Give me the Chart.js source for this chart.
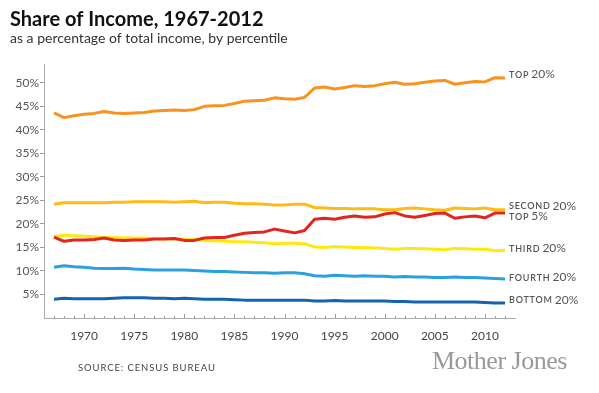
<!DOCTYPE html>
<html>
<head>
<meta charset="utf-8">
<script src="https://cdn.jsdelivr.net/npm/chart.js@4"></script>
<style>
  body { margin: 0; background: #fff; }
  #wrap { position: relative; width: 599px; height: 393px; overflow: hidden; }
  #source { position: absolute; left: 78px; top: 362px; font: 9.5px Lato, sans-serif; letter-spacing: 0.9px; color: #444; }
  #logo { position: absolute; left: 432px; top: 346px; font: 26px "Liberation Serif", serif; letter-spacing: -0.5px; color: #999; }
</style>
</head>
<body>
<div id="wrap">
  <canvas id="incomeChart" width="599" height="393"></canvas>
  <div id="source">SOURCE: CENSUS BUREAU</div>
  <div id="logo">Mother Jones</div>
</div>
<script>
const years = [1967, 1968, 1969, 1970, 1971, 1972, 1973, 1974, 1975, 1976,
               1977, 1978, 1979, 1980, 1981, 1982, 1983, 1984, 1985, 1986,
               1987, 1988, 1989, 1990, 1991, 1992, 1993, 1994, 1995, 1996,
               1997, 1998, 1999, 2000, 2001, 2002, 2003, 2004, 2005, 2006,
               2007, 2008, 2009, 2010, 2011, 2012];

const top20 = [43.6, 42.6, 43.0, 43.3, 43.5, 43.9, 43.6, 43.5, 43.6, 43.7,
               44.0, 44.1, 44.2, 44.1, 44.3, 45.0, 45.1, 45.2, 45.6, 46.1,
               46.2, 46.3, 46.8, 46.6, 46.5, 46.9, 48.9, 49.1, 48.7, 49.0,
               49.4, 49.2, 49.4, 49.8, 50.1, 49.7, 49.8, 50.1, 50.4, 50.5,
               49.7, 50.0, 50.3, 50.2, 51.1, 51.0];
const top5 = [17.2, 16.3, 16.6, 16.6, 16.7, 17.0, 16.6, 16.5, 16.6, 16.6,
              16.8, 16.8, 16.9, 16.5, 16.5, 17.0, 17.1, 17.1, 17.6, 18.0,
              18.2, 18.3, 18.9, 18.5, 18.1, 18.6, 21.0, 21.2, 21.0, 21.4,
              21.7, 21.4, 21.5, 22.1, 22.4, 21.7, 21.4, 21.8, 22.2, 22.3,
              21.2, 21.5, 21.7, 21.3, 22.3, 22.3];
const second20 = [24.2, 24.5, 24.5, 24.5, 24.5, 24.5, 24.6, 24.6, 24.7, 24.7,
                  24.7, 24.7, 24.6, 24.7, 24.8, 24.5, 24.6, 24.6, 24.4, 24.3,
                  24.3, 24.2, 24.0, 24.0, 24.2, 24.2, 23.5, 23.4, 23.3, 23.3,
                  23.2, 23.2, 23.2, 23.0, 23.0, 23.3, 23.4, 23.2, 23.0, 22.9,
                  23.4, 23.3, 23.2, 23.4, 23.0, 23.0];
const third20 = [17.3, 17.6, 17.5, 17.4, 17.3, 17.1, 17.1, 17.0, 17.0, 17.0,
                 16.9, 16.8, 16.8, 16.8, 16.7, 16.5, 16.4, 16.3, 16.2, 16.2,
                 16.1, 16.0, 15.8, 15.9, 15.9, 15.8, 15.1, 15.0, 15.2, 15.1,
                 15.0, 15.0, 14.9, 14.8, 14.6, 14.8, 14.8, 14.7, 14.6, 14.5,
                 14.8, 14.7, 14.6, 14.6, 14.3, 14.4];
const fourth20 = [10.8, 11.1, 10.9, 10.8, 10.6, 10.5, 10.5, 10.6, 10.4, 10.3,
                  10.2, 10.2, 10.2, 10.2, 10.1, 10.0, 9.9, 9.9, 9.8, 9.7,
                  9.6, 9.6, 9.5, 9.6, 9.6, 9.4, 9.0, 8.9, 9.1, 9.0,
                  8.9, 9.0, 8.9, 8.9, 8.7, 8.8, 8.7, 8.7, 8.6, 8.6,
                  8.7, 8.6, 8.6, 8.5, 8.4, 8.3];
const bottom20 = [4.0, 4.2, 4.1, 4.1, 4.1, 4.1, 4.2, 4.3, 4.3, 4.3,
                  4.2, 4.2, 4.1, 4.2, 4.1, 4.0, 4.0, 4.0, 3.9, 3.8,
                  3.8, 3.8, 3.8, 3.8, 3.8, 3.8, 3.6, 3.6, 3.7, 3.6,
                  3.6, 3.6, 3.6, 3.6, 3.5, 3.5, 3.4, 3.4, 3.4, 3.4,
                  3.4, 3.4, 3.4, 3.3, 3.2, 3.2];

const xTickYears = [1970, 1975, 1980, 1985, 1990, 1995, 2000, 2005, 2010];
const yTickValues = [5, 10, 15, 20, 25, 30, 35, 40, 45, 50];

// end labels: [small caps word, rest]
const seriesNames = [['TOP', '20%'], ['TOP', '5%'], ['SECOND', '20%'], ['THIRD', '20%'], ['FOURTH', '20%'], ['BOTTOM', '20%']];
const labelNudge = [-4, 3.5, -4, -2, -1.5, -3];

function pts(values) {
    return values.map((v, i) => ({ x: years[i], y: v }));
}

function line(label, values, color) {
    return {
        label: label,
        data: pts(values),
        borderColor: color,
        borderWidth: 3,
        pointRadius: 0,
        tension: 0,
        borderJoinStyle: 'round',
        fill: false
    };
}

// year tick marks sit above the axis line
const yearTicks = {
    id: 'yearTicks',
    afterDraw(chart) {
        const ctx = chart.ctx;
        const xs = chart.scales.x;
        const base = chart.chartArea.bottom;
        ctx.save();
        ctx.strokeStyle = '#999';
        ctx.lineWidth = 1;
        years.forEach(yr => {
            const px = Math.round(xs.getPixelForValue(yr)) + 0.5;
            const h = yr % 5 === 0 ? 4 : 2;
            ctx.beginPath();
            ctx.moveTo(px, base);
            ctx.lineTo(px, base - h);
            ctx.stroke();
        });
        ctx.restore();
    }
};

const endLabels = {
    id: 'endLabels',
    afterDatasetsDraw(chart) {
        const ctx = chart.ctx;
        ctx.save();
        ctx.fillStyle = '#555';
        ctx.textBaseline = 'middle';
        chart.data.datasets.forEach((ds, i) => {
            const meta = chart.getDatasetMeta(i);
            const last = meta.data[meta.data.length - 1];
            const x = last.x + 4;
            const y = last.y + labelNudge[i];
            ctx.font = '600 9px Lato, sans-serif';
            ctx.letterSpacing = '0.8px';
            ctx.fillText(seriesNames[i][0], x, y + 0.5);
            const w = ctx.measureText(seriesNames[i][0]).width;
            ctx.font = '12px Lato, sans-serif';
            ctx.letterSpacing = '0px';
            ctx.fillText(seriesNames[i][1], x + w + 2, y);
        });
        ctx.restore();
    }
};

const ctx = document.getElementById('incomeChart').getContext('2d');
const incomeChart = new Chart(ctx, {
    type: 'line',
    data: {
        datasets: [
            line('Top 20%', top20, '#f7931e'),
            line('Top 5%', top5, '#e2261d'),
            line('Second 20%', second20, '#fdbb16'),
            line('Third 20%', third20, '#ffe812'),
            line('Fourth 20%', fourth20, '#2aa0de'),
            line('Bottom 20%', bottom20, '#1762ad')
        ]
    },
    options: {
        responsive: false,
        animation: false,
        devicePixelRatio: 1,
        layout: { padding: { left: 10, right: 84, top: 0, bottom: 53 } },
        plugins: {
            legend: { display: false },
            tooltip: { enabled: false },
            title: {
                display: true,
                text: 'Share of Income, 1967-2012',
                align: 'start',
                color: '#111',
                font: { family: 'Lato', size: 20, weight: 'bold', lineHeight: 1 },
                padding: { top: 10, bottom: 1 }
            },
            subtitle: {
                display: true,
                text: 'as a percentage of total income, by percentile',
                align: 'start',
                color: '#333',
                font: { family: 'Lato', size: 14, lineHeight: 1 },
                padding: { top: 0, bottom: 19 }
            }
        },
        scales: {
            x: {
                type: 'linear',
                min: 1966,
                max: 2013,
                afterFit: s => { s.height = 22; },
                afterBuildTicks: s => { s.ticks = xTickYears.map(v => ({ value: v })); },
                grid: { display: false },
                border: { display: true, color: '#aaa', width: 1 },
                ticks: {
                    autoSkip: false,
                    maxRotation: 0,
                    padding: 3,
                    color: '#444',
                    font: { family: 'Lato', size: 12 },
                    callback: v => String(v)
                }
            },
            y: {
                min: 0,
                max: 54,
                afterFit: s => { s.width = 34; },
                afterBuildTicks: s => { s.ticks = yTickValues.map(v => ({ value: v })); },
                grid: { drawOnChartArea: false, drawTicks: true, tickLength: 4, color: '#999' },
                border: { display: true, color: '#aaa', width: 1 },
                ticks: {
                    padding: 1,
                    color: '#555',
                    font: { family: 'Lato', size: 12 },
                    callback: v => v + '%'
                }
            }
        }
    },
    plugins: [yearTicks, endLabels]
});
</script>
</body>
</html>
